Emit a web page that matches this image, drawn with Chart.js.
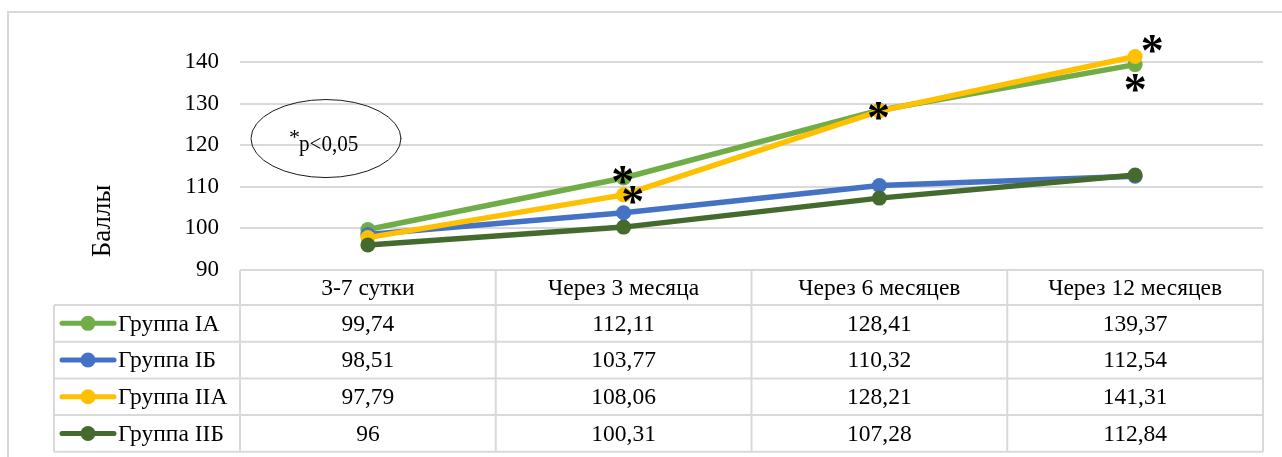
<!DOCTYPE html>
<html>
<head>
<meta charset="utf-8">
<script src="https://cdn.jsdelivr.net/npm/chart.js@4/dist/chart.umd.min.js"></script>
<style>
  html, body { margin: 0; padding: 0; background: #ffffff; }
  #wrap { width: 1282px; height: 457px; position: relative; }
</style>
</head>
<body>
<div id="wrap"><canvas id="chart" width="1282" height="457"></canvas></div>
<script>
// ---- data ----
const categories = ['3-7 сутки', 'Через 3 месяца', 'Через 6 месяцев', 'Через 12 месяцев'];
const seriesNames = ['Группа IA', 'Группа IБ', 'Группа IIA', 'Группа IIБ'];
const groupIA  = [99.74, 112.11, 128.41, 139.37];
const groupIB  = [98.51, 103.77, 110.32, 112.54];
const groupIIA = [97.79, 108.06, 128.21, 141.31];
const groupIIB = [96, 100.31, 107.28, 112.84];
const yTicks = [90, 100, 110, 120, 130, 140];
const axisTitle = 'Баллы';
const noteText = 'p<0,05';
// significant differences, as [series index, category index]
const significant = [[0, 1], [2, 1], [2, 2], [0, 3], [2, 3]];

// ---- styling ----
const colors = ['#70AD47', '#4472C4', '#FFC000', '#446A2D'];
const gridColor = '#d9d9d9';
const serif = '"Liberation Serif", "Times New Roman", serif';
// offset of each asterisk from its point, in px
const starOffsets = [[0, -3], [10, 0], [0, 0], [1, 18], [18, -13]];

const seriesValues = [groupIA, groupIB, groupIIA, groupIIB];
const fmt = v => String(v).replace('.', ',');

// outer frame behind everything
const framePlugin = {
  id: 'frame',
  beforeDraw(chart) {
    const ctx = chart.ctx;
    ctx.save();
    ctx.strokeStyle = gridColor;
    ctx.lineWidth = 2;
    ctx.beginPath();
    ctx.moveTo(8, chart.height);
    ctx.lineTo(8, 12);
    ctx.lineTo(chart.width, 12);
    ctx.stroke();
    ctx.restore();
  }
};

// data table under the plot, the axis title, the note and the asterisks
const tablePlugin = {
  id: 'dataTable',
  afterDraw(chart) {
    const ctx = chart.ctx;
    const xs = chart.scales.x, ys = chart.scales.y;
    const area = chart.chartArea;
    const band = (area.right - area.left) / categories.length;
    const top = ys.getPixelForValue(yTicks[0]);
    const headH = 35;
    const rowH = 36.7;
    const labelLeft = 54;
    const bottom = top + headH + rowH * seriesNames.length;

    ctx.save();
    ctx.strokeStyle = gridColor;
    ctx.lineWidth = 2;
    ctx.beginPath();
    // header box
    ctx.moveTo(area.left, top); ctx.lineTo(area.right, top);
    // row separators
    for (let r = 0; r <= seriesNames.length; r++) {
      const yy = top + headH + r * rowH;
      ctx.moveTo(labelLeft, yy); ctx.lineTo(area.right, yy);
    }
    // vertical lines
    ctx.moveTo(labelLeft, top + headH); ctx.lineTo(labelLeft, bottom);
    for (let c = 0; c <= categories.length; c++) {
      const xx = area.left + c * band;
      ctx.moveTo(xx, top); ctx.lineTo(xx, bottom);
    }
    ctx.stroke();

    ctx.fillStyle = '#000';
    ctx.font = '23.5px ' + serif;
    ctx.textAlign = 'center';
    ctx.textBaseline = 'middle';
    categories.forEach((cat, c) => {
      ctx.fillText(cat, xs.getPixelForValue(c), top + headH / 2 + 1);
    });
    seriesValues.forEach((vals, r) => {
      const cy = top + headH + r * rowH + rowH / 2 + 1;
      vals.forEach((v, c) => {
        ctx.fillText(fmt(v), xs.getPixelForValue(c), cy);
      });
      // legend key
      ctx.strokeStyle = colors[r];
      ctx.lineWidth = 5;
      ctx.lineCap = 'round';
      ctx.beginPath();
      ctx.moveTo(62, cy - 1); ctx.lineTo(114, cy - 1);
      ctx.stroke();
      ctx.fillStyle = colors[r];
      ctx.beginPath();
      ctx.arc(88, cy - 1, 7.5, 0, Math.PI * 2);
      ctx.fill();
      ctx.fillStyle = '#000';
      ctx.textAlign = 'left';
      ctx.fillText(seriesNames[r], 118, cy);
      ctx.textAlign = 'center';
    });

    // axis title
    ctx.save();
    ctx.translate(103, ys.getPixelForValue(101.8));
    ctx.rotate(-Math.PI / 2);
    ctx.font = '27px ' + serif;
    ctx.fillText(axisTitle, 0, 0);
    ctx.restore();

    // significance note
    const ex = area.left + 86, ey = ys.getPixelForValue(121.6);
    ctx.strokeStyle = '#1a1a1a';
    ctx.lineWidth = 1;
    ctx.beginPath();
    ctx.ellipse(ex, ey, 75, 39, 0, 0, Math.PI * 2);
    ctx.stroke();
    ctx.textAlign = 'left';
    ctx.textBaseline = 'alphabetic';
    ctx.font = '22px ' + serif;
    ctx.fillText('*', ex - 37, ey + 5);
    ctx.save();
    ctx.translate(ex - 27, ey + 12);
    ctx.scale(0.88, 1);
    ctx.font = '24px ' + serif;
    ctx.fillText(noteText, 0, 0);
    ctx.restore();

    // asterisks
    ctx.font = 'bold 46px ' + serif;
    const m = ctx.measureText('*');
    const halfW = (m.actualBoundingBoxRight - m.actualBoundingBoxLeft) / 2;
    const midY = (m.actualBoundingBoxAscent - m.actualBoundingBoxDescent) / 2;
    significant.forEach(([s, i], k) => {
      const pt = chart.getDatasetMeta(s).data[i];
      const [dx, dy] = starOffsets[k];
      ctx.fillText('*', pt.x + dx - halfW + m.actualBoundingBoxLeft, pt.y + dy + midY);
    });
    ctx.restore();
  }
};

const datasets = seriesNames.map((name, i) => ({
  label: name,
  data: seriesValues[i],
  borderColor: colors[i],
  backgroundColor: colors[i],
  borderWidth: 5.5,
  pointRadius: 7.5,
  pointBorderWidth: 0,
  pointBackgroundColor: colors[i],
  tension: 0,
  clip: false,
  order: seriesNames.length - i
}));

new Chart(document.getElementById('chart'), {
  type: 'line',
  data: { labels: categories, datasets },
  options: {
    responsive: false,
    animation: false,
    events: [],
    layout: { padding: { left: 0, right: 19, top: 62, bottom: 187 } },
    plugins: { legend: { display: false }, tooltip: { enabled: false } },
    scales: {
      x: { type: 'category', offset: true, display: false },
      y: {
        min: yTicks[0],
        max: yTicks[yTicks.length - 1],
        afterBuildTicks: scale => { scale.ticks = yTicks.map(v => ({ value: v })); },
        afterFit: scale => { scale.width = 240; },
        border: { display: false },
        grid: { color: gridColor, lineWidth: 2, drawTicks: false },
        ticks: {
          color: '#000',
          padding: 21,
          font: { family: serif, size: 23 }
        }
      }
    }
  },
  plugins: [framePlugin, tablePlugin]
});
</script>
</body>
</html>
